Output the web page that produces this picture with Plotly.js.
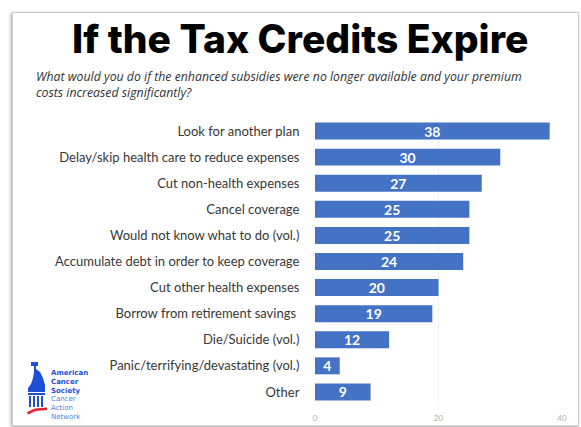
<!DOCTYPE html>
<html>
<head>
<meta charset="utf-8">
<script src="https://cdn.plot.ly/plotly-3.0.1.min.js"></script>
<style>
html,body{margin:0;padding:0;background:#ffffff;}
#frame{position:absolute;left:12px;top:12px;width:565px;height:412px;border:1px solid #cfcfcf;box-shadow:-1px 1px 3px rgba(0,0,0,0.35);background:#fff;}
#chart{position:absolute;left:0;top:0;width:581px;height:427px;}
</style>
</head>
<body>
<div id="frame"></div>
<div id="chart"></div>
<script>
// ---- data ----
var categories = [
  "Look for another plan",
  "Delay/skip health care to reduce expenses",
  "Cut non-health expenses",
  "Cancel coverage",
  "Would not know what to do (vol.)",
  "Accumulate debt in order to keep coverage",
  "Cut other health expenses",
  "Borrow from retirement savings ",
  "Die/Suicide (vol.)",
  "Panic/terrifying/devastating (vol.)",
  "Other"
];
var values = [38, 30, 27, 25, 25, 24, 20, 19, 12, 4, 9];
var xTickVals = [0, 20, 40];
var xTickText = ["0", "20", "40"];
var titleText = "If the Tax Credits Expire";
var subtitleLines = ["What would you do if the enhanced subsidies were no longer available and your premium",
                     "costs increased significantly?"];
var logoBold = ["American", "Cancer", "Society"];
var logoLight = ["Cancer", "Action", "Network"];

// ---- layout geometry ----
var W = 581, H = 427, L = 315, R = 19, T = 118, B = 22;
var PW = W - L - R, PH = H - T - B;
function px(x){ return (x - L) / PW; }
function py(y){ return 1 - (y - T) / PH; }
function poly(pts){ return 'M' + pts.map(function(p){ return px(p[0]) + ',' + py(p[1]); }).join('L') + 'Z'; }
function rect(x0,y0,x1,y1,color){
  return {type:'rect', xref:'paper', yref:'paper', x0:px(x0), x1:px(x1), y0:py(y1), y1:py(y0),
          fillcolor:color, line:{width:0}, layer:'above'};
}
var blue = '#1f4fd6', lightBlue = '#4f7fe8', red = '#e02630';

var shapes = [
  rect(31, 362, 38, 366, blue),
  {type:'path', xref:'paper', yref:'paper', path: poly([[34,366],[36,366],[36,369],[40,372],[43,378],[45,385],[45,392],[28,392],[28,388],[31,384],[33,378],[34,372]]), fillcolor:blue, line:{width:0}},
  rect(28, 393, 45, 395, blue),
  rect(29, 396, 31, 407, blue),
  rect(33, 396, 35, 407, blue),
  rect(37, 396, 39, 407, blue),
  rect(41, 396, 43, 407, blue),
  {type:'path', xref:'paper', yref:'paper', path: poly([[27,412],[35,408.5],[47,407.5],[47,410],[36,411],[28,414.5]]), fillcolor:red, line:{width:0}}
];

var annotations = [
  {text:titleText, xref:'paper', yref:'paper', x:px(300), y:py(38), xanchor:'center', yanchor:'middle', showarrow:false,
   font:{family:'Inter, "Open Sans", sans-serif', size:39, color:'#000000', weight:800}},
  {text:subtitleLines[0], xref:'paper', yref:'paper', x:px(34), y:py(76), xanchor:'left', yanchor:'middle', align:'left', showarrow:false,
   font:{family:'"Open Sans", Lato, sans-serif', size:12.3, color:'#333333', style:'italic'}},
  {text:subtitleLines[1], xref:'paper', yref:'paper', x:px(34), y:py(92), xanchor:'left', yanchor:'middle', align:'left', showarrow:false,
   font:{family:'"Open Sans", Lato, sans-serif', size:12.3, color:'#333333', style:'italic'}},
  {text:logoBold.join('<br>'), xref:'paper', yref:'paper', x:px(49), y:py(367), xanchor:'left', yanchor:'top', align:'left', showarrow:false,
   font:{family:'"DejaVu Sans", sans-serif', size:7, color:blue, weight:700}},
  {text:logoLight.join('<br>'), xref:'paper', yref:'paper', x:px(49), y:py(393), xanchor:'left', yanchor:'top', align:'left', showarrow:false,
   font:{family:'"DejaVu Sans", sans-serif', size:7, color:lightBlue, weight:400}}
];

var trace = {
  type:'bar', orientation:'h',
  y: categories, x: values,
  text: values.map(String),
  textposition:'inside', insidetextanchor:'middle', textangle:0, constraintext:'none',
  textfont:{family:'Lato, sans-serif', size:14, color:'#ffffff', weight:700},
  marker:{color:'#4472c4'},
  width:0.65,
  hoverinfo:'none'
};

var layout = {
  width:W, height:H,
  margin:{l:L, r:R, t:T, b:B, pad:0},
  paper_bgcolor:'rgba(0,0,0,0)', plot_bgcolor:'rgba(0,0,0,0)',
  showlegend:false,
  xaxis:{range:[0,40], tickvals:xTickVals, ticktext:xTickText, showgrid:true, gridcolor:'#f0f0f0', zeroline:false,
         showline:false, ticks:'outside', ticklen:5, tickcolor:'rgba(0,0,0,0)',
         tickfont:{family:'Lato, sans-serif', size:8, color:'#b0b0b0'}, fixedrange:true},
  yaxis:{type:'category', autorange:'reversed', showgrid:false, zeroline:false, showline:false,
         ticks:'outside', ticklen:12, tickcolor:'rgba(0,0,0,0)',
         tickfont:{family:'Lato, sans-serif', size:13, color:'#383838'}, automargin:false, fixedrange:true},
  shapes:shapes,
  annotations:annotations
};

Plotly.newPlot('chart', [trace], layout, {displayModeBar:false, staticPlot:true});
</script>
</body>
</html>
